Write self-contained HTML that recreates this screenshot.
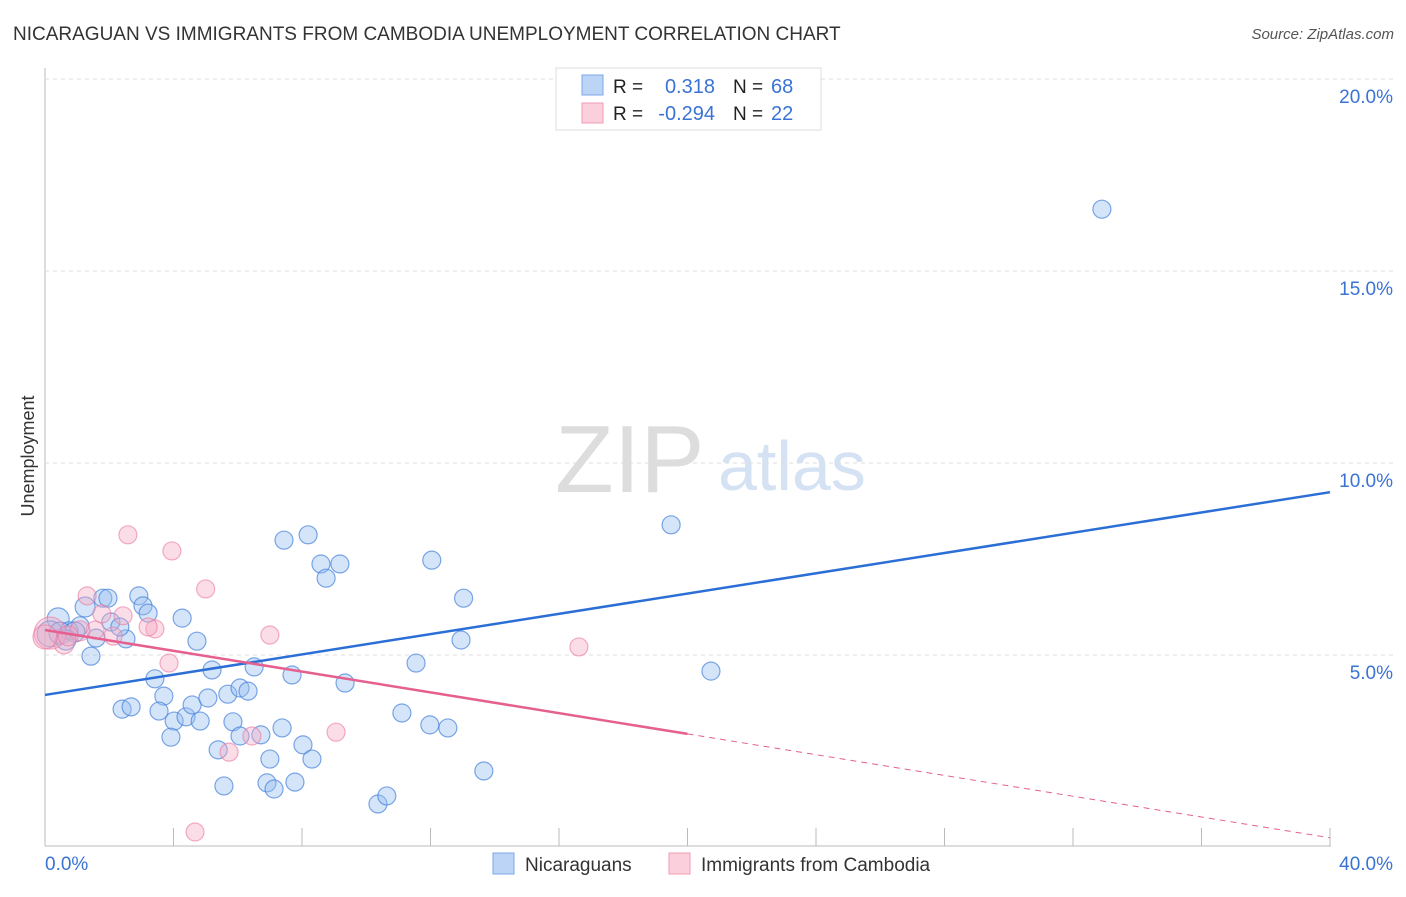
<!DOCTYPE html>
<html><head><meta charset="utf-8"><style>
body{margin:0;background:#fff;font-family:"Liberation Sans",sans-serif}
svg text{font-family:"Liberation Sans",sans-serif}
</style></head><body>
<svg id="c" width="1406" height="892">
<text x="13" y="40" font-size="19" fill="#333">NICARAGUAN VS IMMIGRANTS FROM CAMBODIA UNEMPLOYMENT CORRELATION CHART</text>
<text x="1394" y="39" font-size="15" fill="#555" text-anchor="end" font-style="italic">Source: ZipAtlas.com</text>
<text x="34" y="456" font-size="18" fill="#333" text-anchor="middle" transform="rotate(-90 34 456)">Unemployment</text>
<text x="555" y="492" font-size="96" fill="#ddd" font-family="Liberation Serif">ZIP</text>
<text x="718" y="490" font-size="70" fill="#d4e2f4">atlas</text>
<g id="grid"></g><g id="pts"></g><g id="lines"></g>
<g>
<rect x="556" y="68" width="265" height="62" fill="#fff" stroke="#ddd"/>
<rect x="582" y="75" width="21" height="20" fill="#bcd4f5" stroke="#7aa7e8"/>
<rect x="582" y="103" width="21" height="20" fill="#fbd0dc" stroke="#f19bb4"/>
<text x="613" y="93" font-size="19" fill="#222">R =</text><text x="715" y="93" font-size="20" fill="#3a73d4" text-anchor="end">0.318</text>
<text x="733" y="93" font-size="19" fill="#222">N =</text><text x="771" y="93" font-size="20" fill="#3a73d4">68</text>
<text x="613" y="120" font-size="19" fill="#222">R =</text><text x="715" y="120" font-size="20" fill="#3a73d4" text-anchor="end">-0.294</text>
<text x="733" y="120" font-size="19" fill="#222">N =</text><text x="771" y="120" font-size="20" fill="#3a73d4">22</text>
</g>
<g>
<rect x="493" y="853" width="21" height="21" fill="#bcd4f5" stroke="#7aa7e8"/>
<text x="525" y="871" font-size="19" fill="#333">Nicaraguans</text>
<rect x="669" y="853" width="21" height="21" fill="#fbd0dc" stroke="#f19bb4"/>
<text x="701" y="871" font-size="19" fill="#333">Immigrants from Cambodia</text>
</g>
</svg>
<script>
const yTicks=[5,10,15,20];
const xTickLabels=["0.0%","40.0%"];
const blueX=[0.41,1.25,1.80,1.96,2.92,3.05,3.21,4.27,2.05,1.09,0.75,1.59,2.52,1.43,4.73,3.42,5.20,6.51,7.69,3.70,2.40,2.68,3.55,4.02,4.39,4.83,4.58,5.07,5.69,6.07,6.32,5.85,6.72,6.07,7.38,3.92,5.39,7.00,8.03,8.31,5.57,6.91,7.13,7.78,7.44,8.19,8.59,9.18,8.75,12.04,13.03,12.95,11.55,9.34,11.11,11.98,12.54,13.66,10.365,10.64,19.49,20.73,32.90,0.16,0.47,0.93,2.33,0.65];
const blueY=[5.94,6.25,6.48,6.48,6.54,6.28,6.09,5.96,5.86,5.76,5.63,5.44,5.42,4.97,5.36,4.38,4.61,4.69,4.48,3.93,3.59,3.65,3.54,3.28,3.39,3.28,3.70,3.88,3.98,4.14,4.06,3.26,2.92,2.89,3.10,2.86,2.53,2.29,2.66,2.29,1.59,1.67,1.51,1.69,7.99,8.13,7.37,7.37,7.00,7.47,6.48,5.39,4.79,4.27,3.49,3.18,3.10,1.98,1.12,1.33,8.39,4.58,16.61,5.55,5.57,5.60,5.73,5.39];
const blueR=[11,10,9,9,9,9,9,9,9,9,9,9,9,9,9,9,9,9,9,9,9,9,9,9,9,9,9,9,9,9,9,9,9,9,9,9,9,9,9,9,9,9,9,9,9,9,9,9,9,9,9,9,9,9,9,9,9,9,9,9,9,9,9,13,11,10,9,10];
const pinkX=[2.58,3.95,5.00,1.31,2.43,1.77,3.42,3.21,2.12,1.56,7.00,3.86,16.62,5.73,6.44,9.06,4.67,0.59,0.16,0,1.09,0.72];
const pinkY=[8.13,7.71,6.72,6.54,6.02,6.07,5.68,5.73,5.49,5.65,5.52,4.79,5.21,2.47,2.89,2.99,0.39,5.29,5.57,5.47,5.63,5.50];
const pinkR=[9,9,9,9,9,9,9,9,9,9,9,9,9,9,9,9,9,10,16,12,10,10];
const blueLine=[3.96,9.24]; // y at x=0 and x=40
const pinkLine=[5.65,0.24]; const pinkSolidEnd=20;
const X=v=>45+v/40*1285, Y=v=>847-v*38.4;
const NS="http://www.w3.org/2000/svg";
function mk(t,a,p){const e=document.createElementNS(NS,t);for(const k in a)e.setAttribute(k,a[k]);p.appendChild(e);return e;}
const g=document.getElementById('grid');
mk('line',{x1:45,y1:68,x2:45,y2:846,stroke:'#bbb'},g);
mk('line',{x1:45,y1:846,x2:1331,y2:846,stroke:'#bbb'},g);
yTicks.forEach(t=>{const l=mk('line',{x1:45,y1:Y(t),x2:1394,y2:Y(t),stroke:'#ddd','stroke-dasharray':'4,4'},g);


const tx=mk('text',{x:1393,y:Y(t)+24,'font-size':19,fill:'#3a73d4','text-anchor':'end'},g);tx.textContent=t.toFixed(1)+'%';

});
for(let i=1;i<=10;i++){mk('line',{x1:X(i*4),y1:828,x2:X(i*4),y2:846,stroke:'#bbb'},g);}
xTickLabels.forEach((s,i)=>{const tx=mk('text',{x:i?1393:45,y:870,'font-size':19,fill:'#3a73d4','text-anchor':i?'end':'start'},g);tx.textContent=s;

});
const p=document.getElementById('pts');
blueX.forEach((x,i)=>{const c=mk('circle',{cx:X(x),cy:Y(blueY[i]),r:blueR[i],fill:'rgba(150,190,240,0.4)',stroke:'rgba(70,130,220,0.7)','stroke-width':1.2},p);

});
pinkX.forEach((x,i)=>{const c=mk('circle',{cx:X(x),cy:Y(pinkY[i]),r:pinkR[i],fill:'rgba(245,170,195,0.4)',stroke:'rgba(235,120,160,0.6)','stroke-width':1.2},p);

});
const L=document.getElementById('lines');
const bl=mk('line',{x1:X(0),y1:Y(blueLine[0]),x2:X(40),y2:Y(blueLine[1]),stroke:'#2b6fd6','stroke-width':2.5},L);


const pv=x=>pinkLine[0]+(pinkLine[1]-pinkLine[0])*x/40;
const pl=mk('line',{x1:X(0),y1:Y(pv(0)),x2:X(pinkSolidEnd),y2:Y(pv(pinkSolidEnd)),stroke:'#e5608f','stroke-width':2.5},L);


const pd=mk('line',{x1:X(pinkSolidEnd),y1:Y(pv(pinkSolidEnd)),x2:X(40),y2:Y(pv(40)),stroke:'#e5608f','stroke-width':1,'stroke-dasharray':'6,5'},L);


</script>
</body></html>
